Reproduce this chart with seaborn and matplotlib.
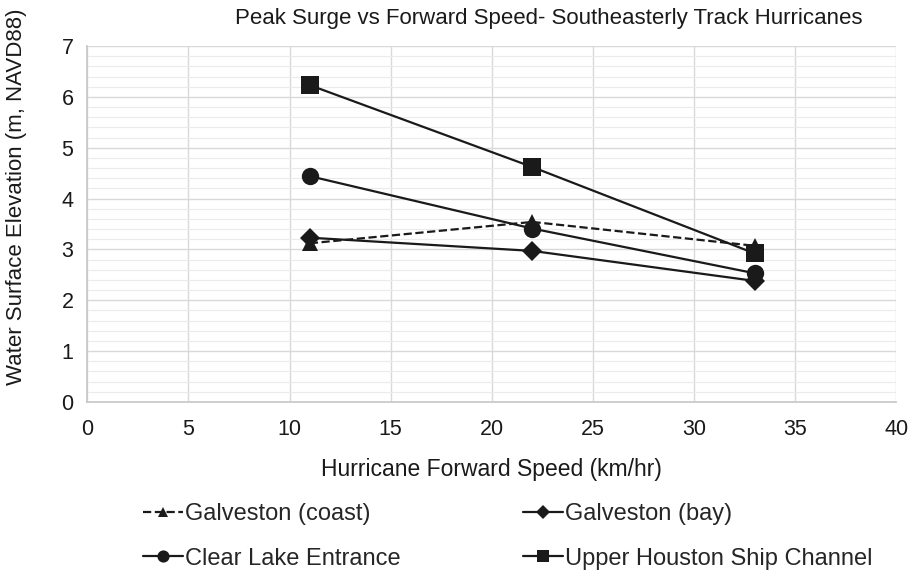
import pandas as pd
import matplotlib.pyplot as plt
import seaborn as sns
from matplotlib.ticker import MultipleLocator

# Data
speeds = [11, 22, 33]
galveston_coast = [3.12, 3.54, 3.07]
galveston_bay = [3.23, 2.97, 2.38]
clear_lake = [4.44, 3.41, 2.53]
upper_houston = [6.23, 4.62, 2.92]
series_names = ["Galveston (coast)", "Galveston (bay)",
                "Clear Lake Entrance", "Upper Houston Ship Channel"]

df = pd.DataFrame({
    "speed": speeds * 4,
    "elev": galveston_coast + galveston_bay + clear_lake + upper_houston,
    "site": [n for n in series_names for _ in speeds],
})

sns.set_theme(style="white")
plt.rcParams['font.family'] = ['Liberation Sans', 'DejaVu Sans']
ink = "#1a1a1a"

fig = plt.figure(figsize=(9.1, 5.75), dpi=100)
ax = fig.add_axes([0.096, 0.301, 0.889, 0.619])

markers = {series_names[0]: "^", series_names[1]: "D",
           series_names[2]: "o", series_names[3]: "s"}
sizes = {series_names[0]: 11, series_names[1]: 10,
         series_names[2]: 12.5, series_names[3]: 13}

for name in series_names:
    sub = df[df["site"] == name]
    dashed = name == "Galveston (coast)"
    sns.lineplot(data=sub, x="speed", y="elev", ax=ax, color=ink,
                 marker=markers[name], markersize=sizes[name],
                 dashes=(3.2, 1.8) if dashed else (None, None),
                 linestyle="--" if dashed else "-",
                 linewidth=1.6, label=name, markeredgewidth=0, zorder=3)

ax.set_xlim(0, 40)
ax.set_ylim(0, 7)
ax.xaxis.set_major_locator(MultipleLocator(5))
ax.yaxis.set_major_locator(MultipleLocator(1))
ax.yaxis.set_minor_locator(MultipleLocator(0.2))
ax.grid(which="major", color="#d9d9d9", linewidth=1.0)
ax.grid(which="minor", axis="y", color="#ebebeb", linewidth=0.8)
ax.set_axisbelow(True)
for side in ["top", "right"]:
    ax.spines[side].set_visible(False)
for side in ["left", "bottom"]:
    ax.spines[side].set_color("#c8c8c8")
ax.tick_params(axis="both", which="both", labelsize=15.5, colors=ink, length=0)
ax.tick_params(axis="x", pad=12)
ax.tick_params(axis="y", pad=10)

fig.text(0.603, 0.967, "Peak Surge vs Forward Speed- Southeasterly Track Hurricanes",
         fontsize=16, color=ink, ha="center", va="center")
ax.set_xlabel("Hurricane Forward Speed (km/hr)", fontsize=16.5, color=ink, labelpad=13)
ax.set_ylabel("Water Surface Elevation (m, NAVD88)", fontsize=16, color=ink)
ax.yaxis.set_label_coords(-0.074, 0.576)

# legend rows: coast | bay, then clear lake | upper houston
handles, labels = ax.get_legend_handles_labels()
order = [0, 2, 1, 3]
if ax.get_legend():
    ax.get_legend().remove()
fig.legend([handles[i] for i in order], [labels[i] for i in order],
           loc="upper left", bbox_to_anchor=(0.157, 0.125), ncol=2,
           frameon=False, fontsize=17, handlelength=1.7, handletextpad=0.1,
           columnspacing=5.15, labelspacing=0.95, markerscale=0.7,
           borderpad=0, borderaxespad=0)

fig.savefig("out.png", dpi=100)
